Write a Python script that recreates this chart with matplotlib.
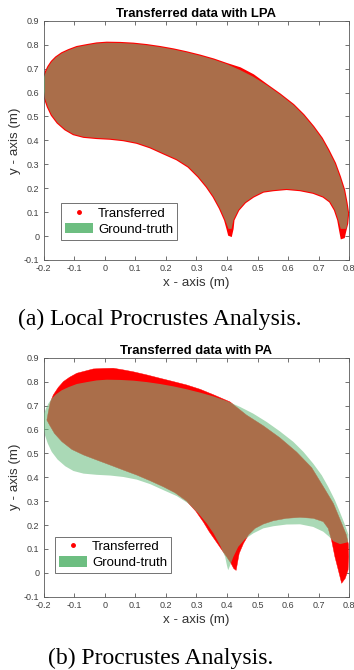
import matplotlib
matplotlib.use("Agg")
import matplotlib.pyplot as plt
from matplotlib.lines import Line2D
from matplotlib.patches import Patch

# Outlines (x, y in metres), traced round each shape:
# lower edge -> left foot -> inner arch -> right foot -> outer edge -> top.

# (a) Local Procrustes Analysis
gt_lpa_x = [-0.199, -0.195, -0.186, -0.173, -0.154, -0.129, -0.102, -0.069, -0.026, 0.018,
            0.061, 0.105, 0.149, 0.192, 0.236, 0.274, 0.307, 0.334, 0.356, 0.377, 0.394, 0.405,
            0.415, 0.421, 0.437, 0.459, 0.486, 0.519, 0.552, 0.595, 0.639, 0.682, 0.715, 0.737,
            0.753, 0.764, 0.772,
            0.790, 0.793, 0.796, 0.791, 0.783, 0.769, 0.753, 0.731, 0.710, 0.682, 0.650, 0.617,
            0.573, 0.530, 0.486, 0.443, 0.399, 0.356, 0.312, 0.268, 0.225, 0.181, 0.138, 0.094,
            0.051, 0.007, -0.026, -0.058, -0.091, -0.118, -0.140, -0.159, -0.173, -0.184,
            -0.192, -0.198, -0.200]
gt_lpa_y = [0.610, 0.575, 0.541, 0.506, 0.474, 0.446, 0.426, 0.415, 0.410, 0.407,
            0.401, 0.390, 0.371, 0.346, 0.321, 0.290, 0.248, 0.206, 0.165, 0.116, 0.067, 0.030,
            0.030, 0.067, 0.109, 0.141, 0.165, 0.186, 0.192, 0.197, 0.192, 0.181, 0.165, 0.144,
            0.109, 0.067, 0.030,
            0.030, 0.053, 0.095, 0.137, 0.192, 0.248, 0.304, 0.360, 0.408, 0.457, 0.506, 0.548,
            0.592, 0.631, 0.666, 0.694, 0.719, 0.738, 0.754, 0.768, 0.780, 0.790, 0.798, 0.804,
            0.807, 0.808, 0.805, 0.798, 0.790, 0.777, 0.764, 0.747, 0.729, 0.708,
            0.687, 0.666, 0.638]

tr_lpa_x = [-0.199, -0.195, -0.186, -0.173, -0.154, -0.129, -0.102, -0.069, -0.026, 0.018,
            0.061, 0.105, 0.149, 0.192, 0.236, 0.274, 0.307, 0.334, 0.356, 0.377, 0.394, 0.402,
            0.407, 0.413, 0.418, 0.421, 0.437, 0.459, 0.486, 0.519, 0.552, 0.595, 0.639, 0.682,
            0.715, 0.737, 0.753, 0.764, 0.770, 0.775,
            0.782, 0.786, 0.793, 0.796, 0.791, 0.783, 0.769, 0.753, 0.731, 0.710, 0.682, 0.650,
            0.617, 0.573, 0.530, 0.486, 0.443, 0.399, 0.356, 0.312, 0.268, 0.225, 0.181, 0.138,
            0.094, 0.051, 0.007, -0.026, -0.058, -0.091, -0.118, -0.140, -0.159, -0.173, -0.184,
            -0.192, -0.198, -0.200]
tr_lpa_y = [0.610, 0.575, 0.541, 0.506, 0.474, 0.446, 0.426, 0.415, 0.410, 0.407,
            0.401, 0.390, 0.371, 0.346, 0.321, 0.290, 0.248, 0.206, 0.165, 0.116, 0.067, 0.030,
            0.005, 0.002, 0.030, 0.067, 0.109, 0.141, 0.165, 0.186, 0.192, 0.197, 0.192, 0.181,
            0.165, 0.144, 0.109, 0.067, 0.025, -0.008,
            -0.005, 0.018, 0.053, 0.095, 0.137, 0.192, 0.248, 0.304, 0.360, 0.408, 0.457, 0.506,
            0.548, 0.592, 0.631, 0.672, 0.701, 0.719, 0.738, 0.754, 0.768, 0.780, 0.790, 0.798,
            0.804, 0.807, 0.808, 0.805, 0.798, 0.790, 0.777, 0.764, 0.747, 0.729, 0.708,
            0.687, 0.666, 0.638]

# (b) Procrustes Analysis
gt_pa_x = [-0.199, -0.195, -0.186, -0.173, -0.154, -0.129, -0.102, -0.069, -0.026, 0.018,
           0.061, 0.105, 0.149, 0.192, 0.236, 0.274, 0.307, 0.334, 0.356, 0.377, 0.394, 0.400,
           0.404, 0.410, 0.421, 0.437, 0.459, 0.486, 0.519, 0.552, 0.595, 0.639, 0.682, 0.715,
           0.735, 0.748, 0.770, 0.796,
           0.797, 0.783, 0.769, 0.753, 0.731, 0.710, 0.682, 0.650, 0.617,
           0.573, 0.530, 0.486, 0.443, 0.399, 0.356, 0.312, 0.268, 0.225, 0.181, 0.138, 0.094,
           0.051, 0.007, -0.026, -0.058, -0.091, -0.118, -0.140, -0.159, -0.173, -0.184,
           -0.192, -0.198, -0.200]
gt_pa_y = [0.610, 0.575, 0.541, 0.506, 0.474, 0.446, 0.426, 0.415, 0.410, 0.407,
           0.401, 0.390, 0.371, 0.346, 0.321, 0.290, 0.248, 0.206, 0.165, 0.116, 0.067, 0.030,
           0.011, 0.030, 0.067, 0.109, 0.141, 0.165, 0.186, 0.195, 0.202, 0.203, 0.192, 0.172,
           0.150, 0.132, 0.120, 0.128,
           0.160, 0.210, 0.255, 0.304, 0.360, 0.408, 0.457, 0.506, 0.548,
           0.592, 0.631, 0.666, 0.694, 0.719, 0.738, 0.754, 0.768, 0.780, 0.790, 0.798, 0.804,
           0.807, 0.808, 0.805, 0.798, 0.790, 0.777, 0.764, 0.747, 0.729, 0.708,
           0.687, 0.666, 0.638]

tr_pa_x = [-0.189, -0.180, -0.164, -0.140, -0.107, -0.069, -0.026, 0.018, 0.061, 0.105,
           0.149, 0.192, 0.230, 0.268, 0.298, 0.323, 0.342, 0.361, 0.381, 0.399, 0.413, 0.422,
           0.430,
           0.434, 0.440, 0.454, 0.470, 0.492, 0.519, 0.552, 0.595, 0.639, 0.682, 0.715, 0.731,
           0.742, 0.753, 0.764, 0.775,
           0.787, 0.796, 0.798, 0.797, 0.790, 0.775, 0.748, 0.720, 0.677, 0.628, 0.573, 0.519,
           0.464, 0.410, 0.356, 0.312, 0.268, 0.225, 0.181, 0.138, 0.094, 0.061, 0.028,
           -0.005, -0.037, -0.064, -0.091, -0.115, -0.135, -0.152, -0.168, -0.178, -0.184]
tr_pa_y = [0.639, 0.618, 0.583, 0.549, 0.516, 0.493, 0.472, 0.451, 0.430, 0.409,
           0.385, 0.360, 0.335, 0.300, 0.258, 0.212, 0.172, 0.137, 0.100, 0.067, 0.040, 0.018,
           0.010,
           0.039, 0.081, 0.123, 0.158, 0.186, 0.204, 0.218, 0.228, 0.232, 0.228, 0.214, 0.186,
           0.137, 0.067, 0.012, -0.044,
           -0.023, 0.012, 0.067, 0.120, 0.160, 0.207, 0.290, 0.350, 0.440, 0.505, 0.565, 0.615,
           0.660, 0.715, 0.745, 0.768, 0.786, 0.800, 0.814, 0.828, 0.841, 0.849, 0.856,
           0.855, 0.853, 0.844, 0.835, 0.818, 0.800, 0.775, 0.744, 0.712, 0.674]

titles = ["Transferred data with LPA", "Transferred data with PA"]
captions = ["(a) Local Procrustes Analysis.", "(b) Procrustes Analysis."]
x_ticks = [-0.2, -0.1, 0, 0.1, 0.2, 0.3, 0.4, 0.5, 0.6, 0.7, 0.8]
y_ticks = [-0.1, 0, 0.1, 0.2, 0.3, 0.4, 0.5, 0.6, 0.7, 0.8, 0.9]

plt.rcParams['font.family'] = ['Liberation Sans', 'DejaVu Sans']

RED = '#ff0000'
GREEN = (109 / 255, 190 / 255, 129 / 255)
AXC = '#5a5a5a'


def draw_panel(ax, gx, gy, tx, ty, title, edge_lw, leg_pos):
    # transferred points (dense red) then ground truth patch on top
    ax.fill(tx, ty, color=RED, ec=RED, lw=edge_lw, zorder=2)
    ax.fill(gx, gy, color=GREEN, alpha=0.58, lw=0, zorder=3)

    ax.set_xlim(-0.2, 0.8)
    ax.set_ylim(-0.1, 0.9)
    ax.set_xticks(x_ticks)
    ax.set_yticks(y_ticks)
    ax.set_xticklabels([f"{v:g}" for v in x_ticks])
    ax.set_yticklabels([f"{v:g}" for v in y_ticks])
    ax.tick_params(direction='in', top=True, right=True, length=3, width=0.6,
                   color=AXC, labelcolor='#404040', labelsize=6.5, pad=3)
    for s in ax.spines.values():
        s.set_color(AXC)
        s.set_linewidth(0.6)

    ax.set_title(title, fontsize=9.4, fontweight='bold', pad=3)
    ax.set_xlabel("x - axis (m)", fontsize=9.6, color='#333333', labelpad=3)
    ax.set_ylabel("y - axis (m)", fontsize=9.6, color='#333333', labelpad=2)

    handles = [Line2D([], [], marker='.', color=RED, ls='none', markersize=5),
               Patch(facecolor=GREEN, edgecolor='none')]
    leg = ax.legend(handles, ["Transferred", "Ground-truth"], loc='lower left',
                    bbox_to_anchor=leg_pos, borderaxespad=0, fontsize=9.5,
                    frameon=True, fancybox=False, handlelength=2.1,
                    handleheight=0.8, handletextpad=0.4, borderpad=0.3,
                    labelspacing=0.25)
    leg.get_frame().set_edgecolor('#333333')
    leg.get_frame().set_linewidth(0.6)


fig = plt.figure(figsize=(3.54, 6.70), dpi=100)
ax1 = fig.add_axes([0.1229, 0.612, 0.8638, 0.357])
ax2 = fig.add_axes([0.1229, 0.1094, 0.8638, 0.3567])

draw_panel(ax1, gt_lpa_x, gt_lpa_y, tr_lpa_x, tr_lpa_y, titles[0], 1.6, (0.057, 0.084))
draw_panel(ax2, gt_pa_x, gt_pa_y, tr_pa_x, tr_pa_y, titles[1], 0.3, (0.038, 0.099))

fig.text(160 / 354, 1 - 319 / 670, captions[0], family=['Liberation Serif', 'DejaVu Serif'],
         fontsize=17, ha='center', va='center')
fig.text(161 / 354, 1 - 658 / 670, captions[1], family=['Liberation Serif', 'DejaVu Serif'],
         fontsize=17, ha='center', va='center')

fig.savefig("out.png", dpi=100)
